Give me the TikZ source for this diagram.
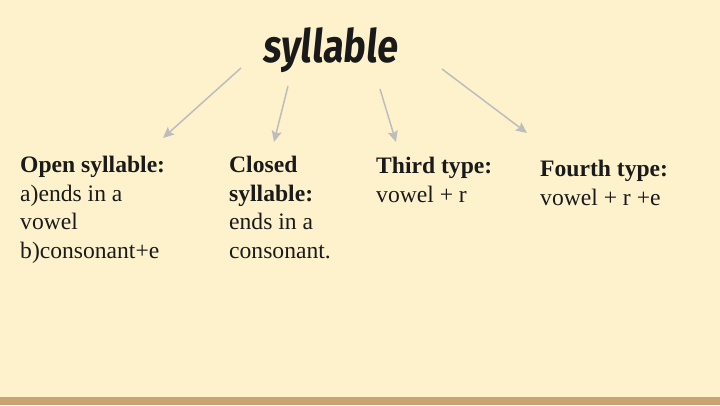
\documentclass[tikz,border=0pt]{standalone}
\usepackage{fontspec}
\setmainfont{Liberation Serif}
\newfontfamily\titlefont[FakeStretch=0.82,FakeSlant=0.1]{Fira Sans}
\usetikzlibrary{arrows.meta}

\definecolor{paper}{HTML}{FEF2CC}
\definecolor{band}{HTML}{C9A473}
\definecolor{pointer}{HTML}{BDBDBD}
\definecolor{ink}{HTML}{1A1A1A}

\tikzset{
	kind/.style={anchor=base west, inner sep=0pt, align=left, text=ink,
		font=\fontsize{23.6}{28.5}\selectfont},
	arc/.style={draw=pointer, line width=1.5pt,
		-{Stealth[length=11pt,width=10pt,inset=2pt]}}
}

\begin{document}
\begin{tikzpicture}[x=1pt,y=1pt]
	
	\fill[paper] (0,0) rectangle (720,-405);
	\fill[band] (0,-397) rectangle (720,-405);
	\useasboundingbox (0,0) rectangle (720,-405);
	
	\node[anchor=base, inner sep=0pt, text=ink] (title) at (330,-62)
		{\titlefont\bfseries\fontsize{46}{50}\selectfont syllable};
	
	% anchored at the last line
	\node[kind] (open) at (20,-258)
		{\textbf{Open syllable:}\\a)ends in a\\vowel\\b)consonant+e};
	\node[kind] (closed) at (229,-258)
		{\textbf{Closed}\\\textbf{syllable:}\\ends in a\\consonant.};
	
	
	\node[kind] (third) at (376,-202) {\textbf{Third type:}\\vowel + r};
	\node[kind] (fourth) at (540,-205) {\textbf{Fourth type:}\\vowel + r +e};
	
	
	\coordinate (s1) at (241,-68);
	\coordinate (s2) at (288,-86);
	\coordinate (s3) at (380,-89);
	\coordinate (s4) at (442,-69);
	\coordinate (t1) at (163,-138);
	\coordinate (t2) at (274,-142);
	\coordinate (t3) at (396,-142);
	\coordinate (t4) at (527,-133);
	
	\path (s1) edge[arc] (t1);
	\path (s2) edge[arc] (t2);
	\path (s3) edge[arc] (t3);
	\path (s4) edge[arc] (t4);
	
\end{tikzpicture}
\end{document}
